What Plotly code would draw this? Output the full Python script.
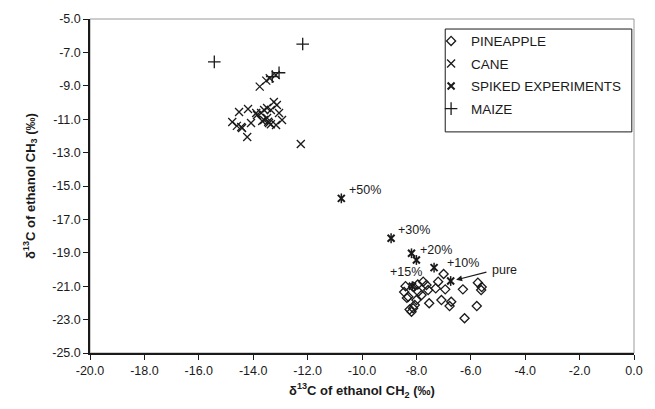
import plotly.graph_objects as go

# ---- data (d13C CH2, d13C CH3) ----
pine_x = [-7.00, -7.20, -7.29, -6.94, -7.53, -7.08, -6.72, -6.78, -6.29, -5.74, -5.62, -5.60, -5.78, -6.23,
          -8.12, -7.93, -8.30, -8.00, -7.81, -7.75, -7.63, -8.12, -8.06, -8.18, -7.57, -8.40, -8.45, -8.35, -8.25, -7.95]
pine_y = [-20.27, -20.73, -21.13, -21.19, -22.02, -21.83, -21.93, -22.19, -21.19, -20.79, -21.23, -21.05, -22.19, -22.92,
          -21.03, -21.33, -21.63, -21.83, -21.53, -20.73, -20.93, -22.32, -22.13, -22.53, -21.23, -21.00, -21.35, -21.70, -22.40, -20.90]

cane_x = [-13.76, -13.52, -13.39, -13.17,
          -14.52, -14.19, -13.89, -13.60, -14.77, -14.44, -14.08, -13.67, -13.49, -14.22, -14.41,
          -13.24, -13.49, -13.13, -13.71, -13.35, -13.05, -12.94, -13.60, -13.42, -13.16, -13.86,
          -13.45, -13.35, -14.60, -12.25]
cane_y = [-9.05, -8.69, -8.55, -8.35,
          -10.57, -10.39, -10.63, -10.45, -11.17, -11.47, -11.23, -11.11, -10.93, -12.07, -11.53,
          -9.97, -10.33, -10.15, -10.63, -10.45, -10.63, -11.05, -11.05, -11.23, -11.35, -10.75,
          -11.15, -11.30, -11.40, -12.49]

spike_x = [-10.76, -8.93, -8.18, -8.00, -7.35, -6.74, -8.15]
spike_y = [-15.74, -18.13, -19.03, -19.43, -19.89, -20.69, -21.00]

maize_x = [-15.43, -12.18, -13.30, -13.05]
maize_y = [-7.57, -6.50, -8.45, -8.22]

# label anchor positions (data units)
lab_text = ["+50%", "+30%", "+20%", "+10%", "+15%", "pure"]
lab_x = [-10.57, -8.74, -7.93, -6.95, -9.03, -5.30]
lab_y = [-15.24, -17.63, -18.83, -19.61, -20.15, -20.03]

x_ticks = [-20, -18, -16, -14, -12, -10, -8, -6, -4, -2, 0]
y_ticks = [-5, -7, -9, -11, -13, -15, -17, -19, -21, -23, -25]

FONT = "Liberation Sans, Arial, sans-serif"
INK = "#1a1a1a"

fig = go.Figure()
fig.add_trace(go.Scatter(x=pine_x, y=pine_y, mode="markers", name="PINEAPPLE", legendgroup="a",
                         marker=dict(symbol="diamond-open", size=7, color=INK, line=dict(width=1.3, color=INK))))
fig.add_trace(go.Scatter(x=cane_x, y=cane_y, mode="markers", name="CANE", legendgroup="b",
                         marker=dict(symbol="x-thin-open", size=8, color=INK, line=dict(width=1.3, color=INK))))
fig.add_trace(go.Scatter(x=spike_x, y=spike_y, mode="markers", name="SPIKED EXPERIMENTS", legendgroup="c",
                         marker=dict(symbol="x-thin-open", size=7, color=INK, line=dict(width=2, color=INK))))
fig.add_trace(go.Scatter(x=spike_x, y=spike_y, mode="markers", name="SPIKED EXPERIMENTS", legendgroup="c",
                         showlegend=False,
                         marker=dict(symbol="line-ns-open", size=7, color=INK, line=dict(width=1.5, color=INK))))
fig.add_trace(go.Scatter(x=maize_x, y=maize_y, mode="markers", name="MAIZE", legendgroup="d",
                         marker=dict(symbol="cross-thin-open", size=9, color=INK, line=dict(width=1.3, color=INK))))

for t, x, y in zip(lab_text, lab_x, lab_y):
    fig.add_annotation(x=x, y=y, text=t, showarrow=False, xanchor="left", yanchor="middle",
                       font=dict(family=FONT, size=12.5, color=INK))
# arrow from "pure" label to the pure sample
fig.add_annotation(x=spike_x[5] + 0.2, y=spike_y[5] + 0.07, ax=lab_x[5] - 0.07, ay=lab_y[5] - 0.1,
                   axref="x", ayref="y", xref="x", yref="y", text="", showarrow=True,
                   arrowhead=2, arrowsize=1, arrowwidth=1.2, arrowcolor=INK)

# plot-area border and legend box
fig.add_shape(type="rect", xref="paper", yref="paper", x0=0, x1=1, y0=0, y1=1,
              line=dict(color="#9a9a9a", width=1), layer="below")
fig.add_shape(type="rect", xref="paper", yref="paper", x0=0.653, x1=0.996, y0=0.662, y1=0.970,
              line=dict(color=INK, width=1), fillcolor="white", layer="below")

axis_common = dict(showgrid=False, zeroline=False, showline=True, linecolor=INK, linewidth=1.5,
                   ticks="outside", ticklen=5, tickcolor=INK, tickwidth=1,
                   tickfont=dict(family=FONT, size=12.5, color=INK))

fig.update_xaxes(range=[-20, 0], tickvals=x_ticks, ticktext=[f"{v:.1f}" for v in x_ticks],
                 title=dict(text="<b>δ<sup>13</sup>C of ethanol CH<sub>2</sub> (‰)</b>", standoff=9,
                            font=dict(family=FONT, size=13, color=INK)), **axis_common)
fig.update_yaxes(range=[-25, -5], tickvals=y_ticks, ticktext=[f"{v:.1f}" for v in y_ticks],
                 title=dict(text="<b>δ<sup>13</sup>C of ethanol CH<sub>3</sub> (‰)</b>", standoff=14,
                            font=dict(family=FONT, size=13, color=INK)), **axis_common)

fig.update_layout(
    width=655, height=409,
    margin=dict(l=90, r=18, t=19, b=56),
    paper_bgcolor="white", plot_bgcolor="white",
    font=dict(family=FONT, size=12.5, color=INK),
    legend=dict(x=0.627, y=0.98, xanchor="left", yanchor="top", bgcolor="rgba(0,0,0,0)",
                borderwidth=0, tracegroupgap=2, font=dict(family=FONT, size=13.5, color=INK),
                traceorder="grouped"),
    showlegend=True,
)

fig.write_html("out.html", config={"displayModeBar": False},
               post_script="document.body.style.margin='0';document.body.style.padding='0';")
